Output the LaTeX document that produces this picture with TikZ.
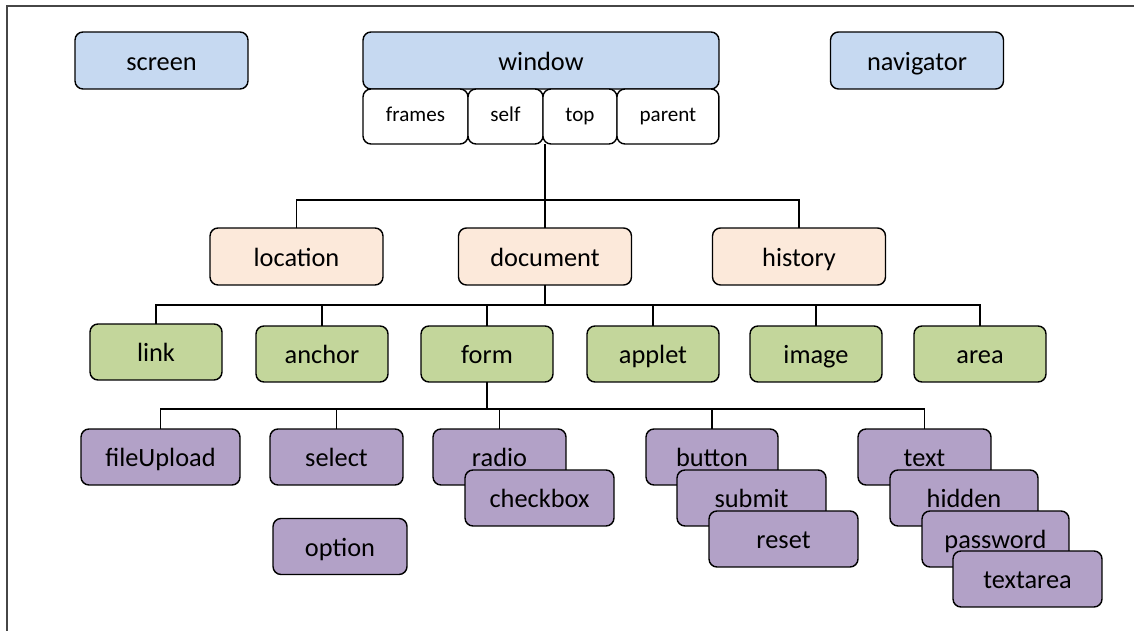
\documentclass[tikz,border=0pt]{standalone}
\usepackage{fontspec}
\setmainfont{Carlito}
\usetikzlibrary{chains,positioning}

\definecolor{BlueF}{HTML}{C6D9F1}
\definecolor{PeachF}{HTML}{FCE9DA}
\definecolor{GreenF}{HTML}{C3D69B}
\definecolor{PurpleF}{HTML}{B2A1C7}

\begin{document}
\begin{tikzpicture}[
	x=0.02cm, y=-0.02cm,
	start chain =1 going right,
	node distance = 0pt,
	Box/.style={draw, line width=0.8pt, rounded corners=0.16cm, inner sep=0pt,
		outer sep=0pt, minimum height=1.14cm, text height=2.7ex, text depth=0.35ex,
		font=\fontsize{15}{18}\selectfont},
	BoxB/.style={Box, fill=BlueF, minimum width=3.46cm},
	BoxP/.style={Box, fill=PeachF, minimum width=3.46cm},
	BoxG/.style={Box, fill=GreenF, minimum width=2.64cm, minimum height=1.12cm},
	BoxV/.style={Box, fill=PurpleF, minimum height=1.12cm},
	Sub/.style={draw, line width=0.8pt, rounded corners=0.16cm, fill=white,
		minimum height=1.1cm, inner sep=0pt, outer sep=0pt,
		text height=1.6ex, text depth=0.45ex,
		font=\fontsize{12}{14}\selectfont, on chain=1},
	Link/.style={line width=0.8pt}
	]
	\useasboundingbox (0,0) rectangle (1134,631);
	\draw [gray!55!black, line width=1pt] (1134,6) -- (7,6) -- (7,631);
	
	% top row
	\node [BoxB] (screen) at (161.5,60.5) {screen};
	\node [BoxB, minimum width=7.12cm] (window) at (541,60.5) {window};
	\node [BoxB] (navigator) at (917,60.5) {navigator};
	
	\node [Sub, minimum width=2.1cm] (frames) at (415.5,116.5) {frames};
	\node [Sub, minimum width=1.5cm] (self) {self};
	\node [Sub, minimum width=1.48cm] (top) {top};
	\node [Sub, minimum width=2.04cm] (parent) {parent};
	
	% second row
	\node [BoxP] (location) at (296.5,256.5) {location};
	\node [BoxP] (document) at (545,256.5) {document};
	\node [BoxP] (history) at (799,256.5) {history};
	
	\coordinate (wbar) at (545,200);
	\draw [Link] (document.north) -- (document.north |- top.south);
	\draw [Link] (location.north) |- (wbar) -| (history.north);
	
	% document children
	\node [BoxG] (link) at (156,352) {link};
	\node [BoxG] (anchor) at (322,354) {anchor};
	\node [BoxG] (form) at (487,354) {form};
	\node [BoxG] (applet) at (653,354) {applet};
	\node [BoxG] (image) at (816,354) {image};
	\node [BoxG] (area) at (980,354) {area};
	
	\coordinate (dbar) at (545,305);
	\draw [Link] (document.south) -- (dbar);
	\draw [Link] (dbar) -| (link.north);
	\draw [Link] (dbar) -| (anchor.north);
	\draw [Link] (dbar) -| (form.north);
	\draw [Link] (dbar) -| (applet.north);
	\draw [Link] (dbar) -| (image.north);
	\draw [Link] (dbar) -| (area.north);
	
	% form elements
	\node [BoxV, minimum width=3.18cm] (fileUpload) at (160.5,457) {fileUpload};
	\node [BoxV, minimum width=2.66cm] (select) at (336.5,457) {select};
	\node [BoxV, minimum width=2.68cm] (option) at (340,546.5) {option};
	
	\node [BoxV, minimum width=2.66cm] (radio) at (499.5,457) {radio};
	\node [BoxV, minimum width=2.98cm] (checkbox) at (539.5,498) {checkbox};
	
	\node [BoxV, minimum width=2.64cm] (button) at (712,457) {button};
	\node [BoxV, minimum width=2.98cm] (submit) at (751.5,498) {submit};
	\node [BoxV, minimum width=2.98cm] (reset) at (783.5,539) {reset};
	
	\node [BoxV, minimum width=2.66cm] (text) at (924.5,457) {text};
	\node [BoxV, minimum width=2.96cm] (hidden) at (964,498) {hidden};
	\node [BoxV, minimum width=2.94cm] (password) at (995.5,539) {password};
	\node [BoxV, minimum width=2.98cm] (textarea) at (1027.5,579) {textarea};
	
	\coordinate (fbar) at (487,409);
	\draw [Link] (form.south) -- (fbar);
	\draw [Link] (fbar) -| (fileUpload.north);
	\draw [Link] (fbar) -| (select.north);
	\draw [Link] (fbar) -| (radio.north);
	\draw [Link] (fbar) -| (button.north);
	\draw [Link] (fbar) -| (text.north);
\end{tikzpicture}
\end{document}
